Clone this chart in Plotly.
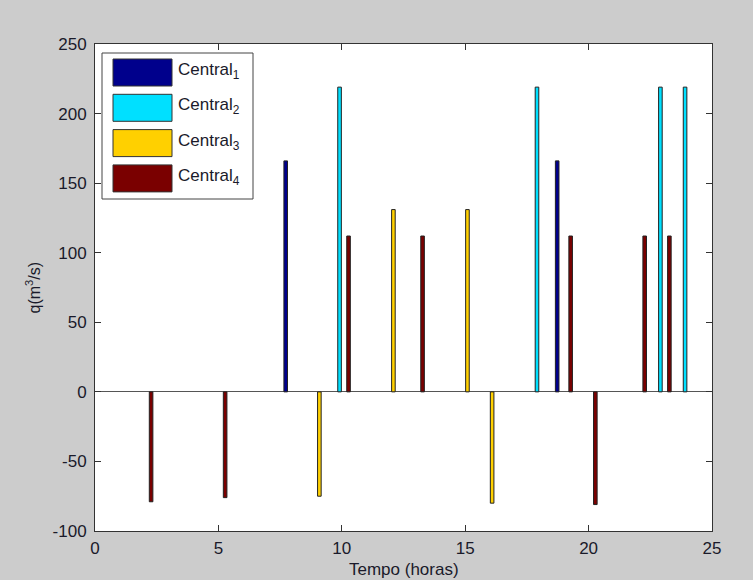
import plotly.graph_objects as go

# Hourly flow per plant (m^3/s); positive = turbining, negative = pumping
hours = list(range(1, 25))
central1 = [0, 0, 0, 0, 0, 0, 0, 166, 0, 0, 0, 0, 0, 0, 0, 0, 0, 0, 166, 0, 0, 0, 0, 0]
central2 = [0, 0, 0, 0, 0, 0, 0, 0, 0, 219, 0, 0, 0, 0, 0, 0, 0, 219, 0, 0, 0, 0, 219, 219]
central3 = [0, 0, 0, 0, 0, 0, 0, 0, -75, 0, 0, 131, 0, 0, 131, -80, 0, 0, 0, 0, 0, 0, 0, 0]
central4 = [0, -79, 0, 0, -76, 0, 0, 0, 0, 112, 0, 0, 112, 0, 0, 0, 0, 0, 112, -81, 0, 112, 112, 0]

series = [central1, central2, central3, central4]
names = ["Central<sub>1</sub>", "Central<sub>2</sub>", "Central<sub>3</sub>", "Central<sub>4</sub>"]
colors = ["#00008C", "#00E0FF", "#FFD000", "#7A0000"]

x_ticks = [0, 5, 10, 15, 20, 25]
y_ticks = [-100, -50, 0, 50, 100, 150, 200, 250]

FONT = "Liberation Sans, Arial, sans-serif"
TXT = "#1a1a2a"
W, H = 753, 580
ML, MR, MT, MB = 95, 41, 44, 49
PW, PH = W - ML - MR, H - MT - MB

fig = go.Figure()
for vals, name, col in zip(series, names, colors):
    # idle hours carry no bar at all (only the baseline shows)
    fig.add_trace(go.Bar(
        x=hours, y=[v if v != 0 else None for v in vals], name=name, showlegend=False,
        marker=dict(color=col, line=dict(color="#222222", width=1)),
    ))

# pixel -> paper coordinate helpers
def px(xp):
    return (xp - ML) / PW

def py(yp):
    return (H - MB - yp) / PH

# MATLAB-style boxed legend with wide colour patches
shapes = [dict(type="rect", xref="paper", yref="paper",
               x0=px(102), x1=px(253), y0=py(199), y1=py(53),
               line=dict(color="#444444", width=1), fillcolor="white", layer="above")]
annotations = []
row0, step = 59, 35.3
for i, (name, col) in enumerate(zip(names, colors)):
    top = row0 + i * step
    shapes.append(dict(type="rect", xref="paper", yref="paper",
                       x0=px(113), x1=px(172), y0=py(top + 27), y1=py(top),
                       line=dict(color="#333333", width=1), fillcolor=col, layer="above"))
    annotations.append(dict(xref="paper", yref="paper", x=px(176), y=py(top + 12),
                            text=name, showarrow=False, xanchor="left", yanchor="middle",
                            font=dict(family=FONT, size=17, color=TXT)))

# axis titles
annotations.append(dict(xref="paper", yref="paper", x=0.5, y=py(569),
                        text="Tempo (horas)", showarrow=False,
                        xanchor="center", yanchor="middle",
                        font=dict(family=FONT, size=17, color=TXT)))
annotations.append(dict(xref="paper", yref="paper", x=px(33), y=0.5,
                        text="q(m<sup>3</sup>/s)", showarrow=False, textangle=-90,
                        xanchor="center", yanchor="middle",
                        font=dict(family=FONT, size=16, color=TXT)))

axis_common = dict(showline=True, mirror="ticks", linecolor="#333333", linewidth=1,
                   ticks="inside", ticklen=6, tickcolor="#333333", showgrid=False,
                   automargin=False,
                   tickfont=dict(family=FONT, size=17, color=TXT))

fig.update_layout(
    width=W, height=H,
    margin=dict(l=ML, r=MR, t=MT, b=MB),
    paper_bgcolor="#cccccc", plot_bgcolor="white",
    barmode="group", bargap=0.2727, bargroupgap=0.2,
    xaxis=dict(range=[0, 25], tickvals=x_ticks, ticktext=[str(v) for v in x_ticks],
               zeroline=False, ticklabelstandoff=2, **axis_common),
    yaxis=dict(range=[-100, 250], tickvals=y_ticks, ticktext=[str(v) for v in y_ticks],
               zeroline=True, zerolinecolor="#555555", zerolinewidth=1,
               ticklabelstandoff=4, **axis_common),
    shapes=shapes, annotations=annotations,
)

fig.write_html("out.html")
